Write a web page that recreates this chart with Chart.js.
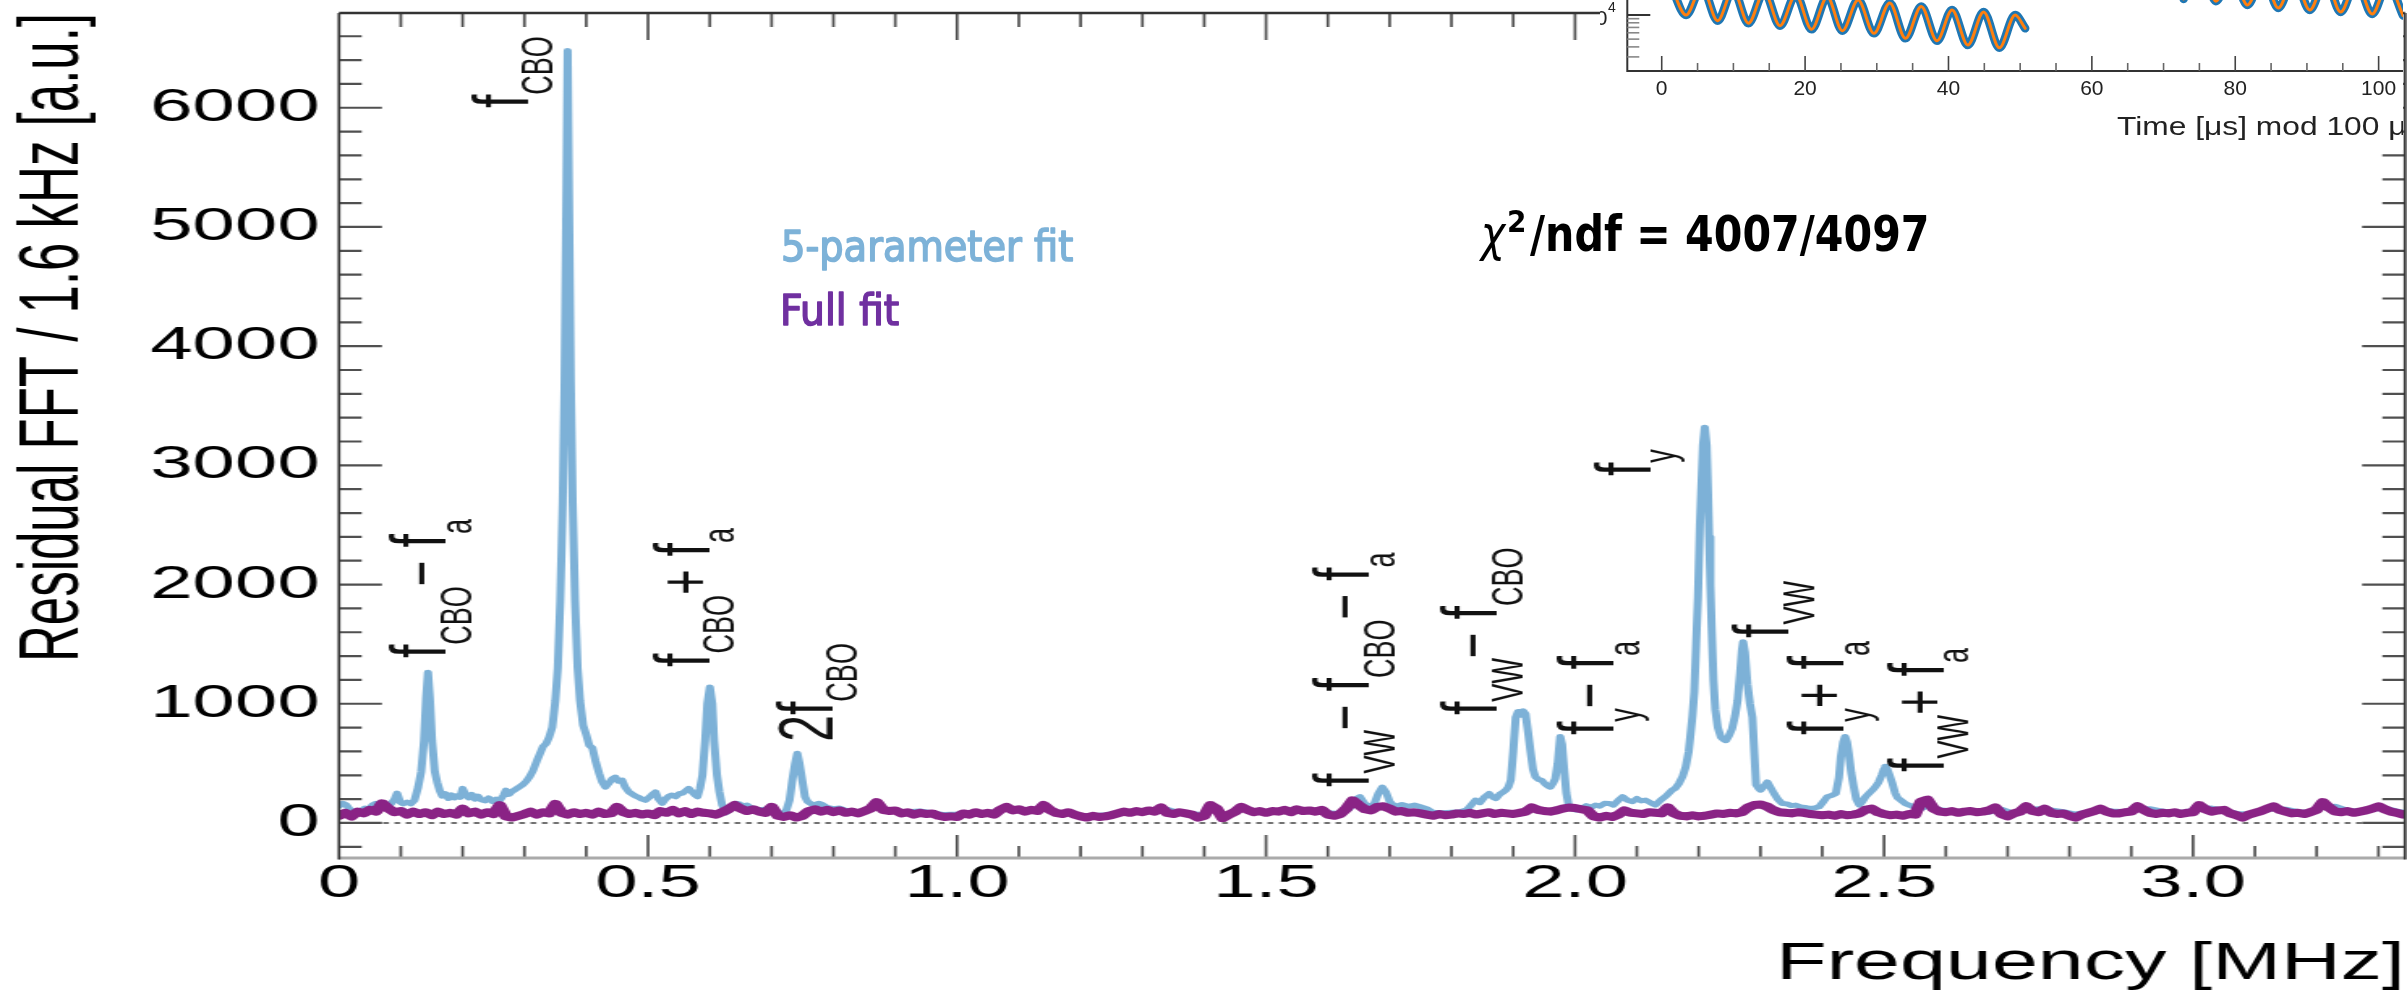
<!DOCTYPE html>
<html>
<head>
<meta charset="utf-8">
<title>Residual FFT</title>
<script src="https://cdn.jsdelivr.net/npm/chart.js@4.4.1/dist/chart.umd.min.js"></script>
<style>
  html, body { margin: 0; padding: 0; background: #fff; overflow: hidden; }
  #stage { position: relative; width: 2407px; height: 993px; overflow: hidden; background: #fff; }
  #spectrum { position: absolute; left: 0; top: 0; transform-origin: 0 0; }
  #inset { position: absolute; left: 1600px; top: 0; background: #fff; }
  #notes { position: absolute; left: 0; top: 0; pointer-events: none; }
</style>
</head>
<body>
<div id="stage">
  <canvas id="spectrum" width="1486" height="993"></canvas>
  <canvas id="inset" width="803" height="150"></canvas>
  <canvas id="notes" width="2407" height="993"></canvas>
</div>
<script>
// ---------------- data ----------------

// x ticks / y ticks of the spectrum
const freqTickLabels = ['0', '0.5', '1.0', '1.5', '2.0', '2.5', '3.0'];
const ampTickLabels = ['0', '1000', '2000', '3000', '4000', '5000', '6000'];

// full fit residual FFT, one value per 0.01 MHz starting at 0
const fullFitStep = 0.01;
const fullFitAmp = [
  60, 85, 55, 95, 80, 110, 95, 165, 120, 90,
  100, 70, 95, 75, 90, 65, 95, 75, 85, 70,
  120, 80, 95, 70, 90, 75, 150, 55, 45, 60,
  75, 95, 70, 90, 80, 160, 85, 70, 90, 75,
  85, 70, 95, 75, 80, 135, 90, 75, 85, 70,
  80, 65, 100, 85, 110, 80, 100, 75, 95, 85,
  80, 70, 90, 115, 150, 120, 100, 115, 95, 85,
  135, 60, 50, 65, 45, 60, 100, 115, 95, 110,
  90, 105, 85, 95, 80, 100, 120, 175, 110, 100,
  105, 80, 90, 70, 85, 75, 80, 60, 50, 55,
  50, 80, 70, 90, 75, 85, 70, 110, 135, 105,
  115, 95, 110, 100, 150, 110, 85, 75, 90, 70,
  55, 45, 60, 50, 55, 65, 80, 95, 85, 100,
  90, 105, 95, 130, 85, 75, 90, 80, 70, 45,
  60, 150, 120, 40, 70, 95, 135, 110, 90, 100,
  85, 100, 95, 110, 90, 115, 100, 105, 95, 110,
  70, 60, 75, 120, 190, 150, 115, 105, 135, 140,
  120, 95, 100, 85, 90, 80, 70, 60, 75, 65,
  70, 80, 75, 85, 70, 80, 90, 75, 85, 80,
  75, 85, 95, 130, 110, 100, 95, 105, 120, 130,
  125, 115, 105, 55, 45, 60, 50, 70, 105, 85,
  80, 75, 90, 85, 80, 130, 80, 60, 55, 65,
  55, 60, 70, 80, 75, 85, 80, 90, 130, 150,
  155, 140, 110, 90, 85, 80, 90, 85, 75, 70,
  65, 70, 60, 75, 65, 70, 80, 110, 120, 90,
  75, 65, 70, 60, 75, 70, 180, 195, 120, 95,
  90, 100, 85, 95, 100, 90, 95, 105, 130, 75,
  55, 80, 95, 140, 100, 90, 120, 85, 75, 80,
  60, 45, 70, 85, 100, 120, 95, 80, 80, 90,
  95, 140, 110, 85, 75, 85, 80, 90, 75, 85,
  90, 150, 115, 95, 105, 110, 80, 65, 45, 70,
  85, 100, 120, 140, 110, 95, 80, 85, 75, 90,
  110, 175, 130, 95, 90, 100, 85, 95, 105, 120,
  140, 115, 95, 85, 70, 65
];

// 5-parameter fit residual FFT (MHz, a.u.)
const fit5Freq = [
  0.000, 0.006, 0.012, 0.018, 0.024, 0.030, 0.036, 0.042, 0.048, 0.054,
  0.060, 0.066, 0.072, 0.078, 0.084, 0.090, 0.094, 0.099, 0.104, 0.110,
  0.116, 0.122, 0.128, 0.133, 0.1375, 0.141, 0.144, 0.147, 0.1505, 0.155,
  0.159, 0.163, 0.167, 0.172, 0.177, 0.182, 0.187, 0.192, 0.196, 0.200,
  0.205, 0.210, 0.215, 0.220, 0.225, 0.230, 0.236, 0.242, 0.248, 0.254,
  0.260, 0.266, 0.270, 0.275, 0.280, 0.285, 0.291, 0.297, 0.303, 0.308,
  0.314, 0.320, 0.325, 0.330, 0.335, 0.340, 0.345, 0.350, 0.354, 0.358,
  0.362, 0.365, 0.368, 0.370, 0.372, 0.375, 0.378, 0.382, 0.386, 0.390,
  0.395, 0.400, 0.405, 0.410, 0.415, 0.421, 0.426, 0.431, 0.436, 0.442,
  0.447, 0.452, 0.458, 0.463, 0.469, 0.475, 0.480, 0.485, 0.490, 0.496,
  0.502, 0.507, 0.512, 0.517, 0.523, 0.528, 0.534, 0.539, 0.545, 0.550,
  0.556, 0.561, 0.566, 0.571, 0.576, 0.580, 0.584, 0.588, 0.5925, 0.596,
  0.600, 0.604, 0.607, 0.6115, 0.6155, 0.620, 0.626, 0.632, 0.638, 0.643,
  0.648, 0.654, 0.660, 0.666, 0.672, 0.680, 0.690, 0.700, 0.710, 0.718,
  0.724, 0.729, 0.7335, 0.738, 0.7416, 0.745, 0.7495, 0.754, 0.758, 0.764,
  0.770, 0.776, 0.782, 0.790, 0.800, 0.810, 0.820, 0.830, 0.840, 0.860,
  0.870, 0.880, 0.900, 0.920, 0.940, 0.960, 0.980, 1.000, 1.020, 1.040,
  1.060, 1.080, 1.100, 1.120, 1.140, 1.160, 1.180, 1.200, 1.220, 1.240,
  1.260, 1.280, 1.300, 1.320, 1.340, 1.360, 1.380, 1.400, 1.415, 1.430,
  1.450, 1.465, 1.480, 1.500, 1.520, 1.540, 1.560, 1.580, 1.600, 1.620,
  1.635, 1.645, 1.652, 1.660, 1.668, 1.675, 1.682, 1.688, 1.694, 1.700,
  1.706, 1.712, 1.720, 1.730, 1.740, 1.750, 1.760, 1.770, 1.785, 1.800,
  1.815, 1.825, 1.832, 1.839, 1.846, 1.853, 1.861, 1.867, 1.872, 1.878,
  1.884, 1.888, 1.892, 1.896, 1.900, 1.904, 1.908, 1.912, 1.916, 1.920,
  1.924, 1.928, 1.932, 1.936, 1.941, 1.946, 1.951, 1.956, 1.960, 1.964,
  1.968, 1.972, 1.976, 1.979, 1.982, 1.986, 1.990, 1.996, 2.002, 2.010,
  2.018, 2.026, 2.033, 2.040, 2.048, 2.055, 2.062, 2.070, 2.077, 2.085,
  2.093, 2.100, 2.107, 2.114, 2.122, 2.130, 2.138, 2.147, 2.152, 2.157,
  2.162, 2.168, 2.174, 2.179, 2.184, 2.187, 2.190, 2.193, 2.196, 2.199,
  2.202, 2.205, 2.207, 2.210, 2.213, 2.215, 2.217, 2.219, 2.221, 2.224,
  2.227, 2.231, 2.236, 2.240, 2.244, 2.249, 2.254, 2.259, 2.263, 2.267,
  2.270, 2.272, 2.275, 2.279, 2.283, 2.287, 2.290, 2.293, 2.297, 2.300,
  2.306, 2.311, 2.316, 2.322, 2.328, 2.335, 2.343, 2.350, 2.357, 2.365,
  2.372, 2.379, 2.387, 2.395, 2.402, 2.408, 2.415, 2.422, 2.427, 2.430,
  2.434, 2.437, 2.440, 2.443, 2.447, 2.451, 2.455, 2.460, 2.465, 2.470,
  2.476, 2.481, 2.486, 2.491, 2.496, 2.500, 2.502, 2.505, 2.509, 2.513,
  2.518, 2.522, 2.527, 2.535, 2.548, 2.560, 2.575, 2.590, 2.610, 2.630,
  2.650, 2.670, 2.690, 2.710, 2.730, 2.750, 2.770, 2.790, 2.810, 2.830,
  2.850, 2.870, 2.890, 2.910, 2.930, 2.950, 2.970, 2.990, 3.010, 3.030,
  3.050, 3.070, 3.090, 3.110, 3.130, 3.150, 3.170, 3.190, 3.210, 3.230,
  3.250, 3.270, 3.290, 3.310, 3.330, 3.345
];
const fit5Amp = [
  140, 165, 150, 110, 95, 80, 105, 125, 110, 150,
  165, 150, 170, 145, 160, 200, 250, 175, 160, 175,
  160, 190, 300, 430, 690, 1050, 1265, 1050, 690, 430,
  340, 270, 225, 245, 205, 235, 210, 230, 215, 290,
  235, 210, 240, 200, 225, 195, 185, 210, 180, 200,
  190, 230, 275, 240, 265, 280, 300, 320, 350, 385,
  440, 520, 580, 640, 665, 720, 800, 1025, 1300, 1860,
  2700, 3700, 5300, 6480, 5300, 3700, 2700, 1860, 1300, 1025,
  820, 740, 650, 630, 520, 415, 340, 300, 330, 370,
  385, 350, 360, 300, 260, 240, 225, 215, 200, 190,
  215, 240, 260, 200, 165, 200, 225, 235, 220, 245,
  250, 270, 290, 260, 235, 220, 290, 400, 690, 1000,
  1140, 1000, 690, 400, 260, 150, 85, 110, 140, 165,
  160, 140, 150, 130, 120, 110, 115, 100, 80, 75,
  110, 190, 360, 500, 585, 500, 360, 220, 180, 160,
  150, 165, 155, 130, 120, 125, 105, 100, 95, 115,
  150, 120, 100, 95, 100, 85, 70, 75, 85, 80,
  95, 130, 110, 105, 125, 90, 80, 65, 60, 70,
  85, 95, 90, 100, 115, 85, 80, 65, 130, 60,
  90, 125, 100, 90, 100, 105, 95, 105, 85, 80,
  120, 200, 220, 160, 140, 160, 250, 300, 260, 180,
  150, 140, 155, 140, 150, 135, 120, 90, 85, 90,
  95, 110, 150, 192, 170, 215, 247, 215, 205, 240,
  260, 275, 300, 358, 600, 886, 935, 905, 940, 915,
  760, 600, 450, 386, 365, 358, 330, 310, 300, 330,
  370, 500, 725, 660, 470, 250, 140, 115, 108, 120,
  145, 130, 150, 140, 165, 164, 150, 190, 220, 190,
  178, 205, 185, 192, 170, 150, 190, 225, 250, 275,
  290, 330, 390, 470, 600, 747, 900, 1100, 1500, 1900,
  2500, 2900, 3170, 3320, 3170, 2800, 2400, 2000, 1650, 1200,
  950, 800, 720, 700, 690, 730, 790, 900, 1025, 1250,
  1450, 1520, 1430, 1164, 1000, 886, 600, 320, 290, 275,
  310, 344, 300, 247, 200, 164, 160, 145, 150, 135,
  130, 122, 125, 136, 180, 220, 230, 247, 380, 553,
  680, 725, 680, 580, 420, 303, 200, 150, 180, 220,
  250, 275, 303, 340, 400, 455, 475, 455, 400, 340,
  250, 210, 192, 160, 136, 120, 150, 110, 100, 95,
  100, 90, 115, 80, 110, 120, 110, 95, 75, 90,
  110, 100, 95, 115, 120, 100, 85, 95, 120, 125,
  105, 80, 75, 100, 120, 115, 95, 90, 130, 140,
  105, 100, 115, 125, 100, 85
];

// inset: counts vs time mod 100 us (data and fit coincide)
const insetTime = [
  1.2, 3.4, 5.6, 7.8, 9.95, 12.1, 14.3, 16.5, 18.7, 20.9,
  23.1, 25.2, 27.4, 29.6, 31.8, 34.0, 36.2, 38.4, 40.5, 42.7,
  44.9, 47.1, 49.3, 50.7, 61.0, 72.8, 75.4, 77.3, 79.5, 81.7,
  83.9, 86.0, 88.2, 90.4, 92.6, 94.7, 96.9, 99.1, 101.3, 103.4
];
const insetCounts = [
  24400, 10000, 22400, 8490, 20500, 7900, 19400, 7350, 17800, 6630,
  16800, 6360, 15400, 5900, 14130, 5110, 12760, 4770, 11550, 4220,
  10900, 3900, 10000, 6820, null, 15900, 37000, 14900, 34500, 13350,
  31000, 12230, 29000, 11550, 27500, 10900, 26000, 10300, 24500, 9860
];
const insetTickLabels = ['0', '20', '40', '60', '80', '100'];

// ---------------- layout ----------------
const SANS = '"Liberation Sans", Arial, Helvetica, sans-serif';
const CANVAS_W = 1486;
const STRETCH = 2407 / CANVAS_W;     // figure is drawn narrow, then widened
const PLOT = { left: 339, right: 2405, top: 13, bottom: 858 };   // page px
const X_MAX = 3.343;
const Y_MIN = -294;
const Y_MAX = 6795;

document.getElementById('spectrum').style.transform = 'scaleX(' + STRETCH + ')';

// keep the plot frame where it is: no extra room for edge tick labels
function noEdgePadding(s) {
  s.paddingTop = 0;
  s.paddingBottom = 0;
  s.paddingLeft = 0;
  s.paddingRight = 0;
}

// fixed tick values taken from the label lists
function ticksFrom(labels) {
  return s => { s.ticks = labels.map(l => ({ value: Number(l) })); };
}

// root-style frame with inward ticks on all four sides
const frameTicks = {
  id: 'frameTicks',
  afterDraw(chart) {
    const { ctx, chartArea: a, scales: { x, y } } = chart;
    ctx.save();
    ctx.lineCap = 'butt';
    // ticks along x (every 0.1 MHz, long every 0.5)
    ctx.strokeStyle = '#505050';
    ctx.lineWidth = 1.7;
    for (let i = 1; i / 10 <= X_MAX; i++) {
      const px = x.getPixelForValue(i / 10);
      const major = i % 5 === 0;
      ctx.beginPath();
      ctx.moveTo(px, a.bottom);
      ctx.lineTo(px, a.bottom - (major ? 23 : 12));
      ctx.moveTo(px, a.top);
      ctx.lineTo(px, a.top + (major ? 27 : 14));
      ctx.stroke();
    }
    // ticks along y (every 200, long every 1000)
    ctx.lineWidth = 2.2;
    for (let v = -200; v <= Y_MAX; v += 200) {
      const py = y.getPixelForValue(v);
      const len = v % 1000 === 0 ? 26.5 : 14;
      ctx.beginPath();
      ctx.moveTo(a.left, py);
      ctx.lineTo(a.left + len, py);
      ctx.moveTo(a.right, py);
      ctx.lineTo(a.right - len, py);
      ctx.stroke();
    }
    // frame
    ctx.strokeStyle = '#aaaaaa';
    ctx.lineWidth = 3;
    ctx.beginPath();
    ctx.moveTo(a.left, a.bottom);
    ctx.lineTo(a.right, a.bottom);
    ctx.stroke();
    ctx.strokeStyle = '#333';
    ctx.lineWidth = 2.6;
    ctx.beginPath();
    ctx.moveTo(a.left, a.top);
    ctx.lineTo(a.right, a.top);
    ctx.stroke();
    ctx.lineWidth = 1.7;
    ctx.beginPath();
    ctx.moveTo(a.left, a.top);
    ctx.lineTo(a.left, a.bottom + 1.5);
    ctx.moveTo(a.right, a.top);
    ctx.lineTo(a.right, a.bottom + 1.5);
    ctx.stroke();
    ctx.restore();
  }
};

// rotated peak tags, TLatex-like: main text, subscripts and +/- signs
const TAG_FONT = '48px ' + SANS;
const SUB_FONT = '27px ' + SANS;
const OP_FONT = '44px ' + SANS;
const SUB_DROP = 15.4;
const OP_GAP = 13;

const peakTags = [
  { at: [0.1731, 1384], parts: [['f'], ['CBO', 'sub'], ['\u2212', 'op'], ['f'], ['a', 'sub']] },
  { at: [0.3058, 5998], parts: [['f'], ['CBO', 'sub']] },
  { at: [0.5987, 1309], parts: [['f'], ['CBO', 'sub'], ['+', 'op'], ['f'], ['a', 'sub']] },
  { at: [0.7977, 682], parts: [['2'], ['f'], ['CBO', 'sub']] },
  { at: [1.6667, 302], parts: [['f'], ['VW', 'sub'], ['\u2212', 'op'], ['f'], ['CBO', 'sub'], ['\u2212', 'op'], ['f'], ['a', 'sub']] },
  { at: [1.8738, 906], parts: [['f'], ['VW', 'sub'], ['\u2212', 'op'], ['f'], ['CBO', 'sub']] },
  { at: [2.0631, 738], parts: [['f'], ['y', 'sub'], ['\u2212', 'op'], ['f'], ['a', 'sub']] },
  { at: [2.1225, 2911], parts: [['f'], ['y', 'sub']] },
  { at: [2.3463, 1552], parts: [['f'], ['VW', 'sub']] },
  { at: [2.4353, 738], parts: [['f'], ['y', 'sub'], ['+', 'op'], ['f'], ['a', 'sub']] },
  { at: [2.5955, 428], parts: [['f'], ['VW', 'sub'], ['+', 'op'], ['f'], ['a', 'sub']] }
];

function drawTag(ctx, x, y, parts) {
  ctx.save();
  ctx.translate(x, y);
  ctx.rotate(-Math.PI / 2);
  ctx.fillStyle = '#111';
  ctx.textAlign = 'left';
  ctx.textBaseline = 'alphabetic';
  let pos = 0;
  parts.forEach(([t, kind]) => {
    ctx.font = kind === 'sub' ? SUB_FONT : kind === 'op' ? OP_FONT : TAG_FONT;
    ctx.fillText(t, pos, kind === 'sub' ? SUB_DROP : 0);
    pos += ctx.measureText(t).width + (kind === 'op' ? OP_GAP : 0);
  });
  ctx.restore();
}

const peakLabels = {
  id: 'peakLabels',
  afterDatasetsDraw(chart) {
    const { ctx, scales: { x, y } } = chart;
    peakTags.forEach(tag => {
      drawTag(ctx, x.getPixelForValue(tag.at[0]), y.getPixelForValue(tag.at[1]), tag.parts);
    });
  }
};

const fullFitPoints = fullFitAmp.map((v, i) => ({ x: +(i * fullFitStep).toFixed(3), y: v }));
const fit5Points = fit5Freq.map((f, i) => ({ x: f, y: fit5Amp[i] }));

new Chart(document.getElementById('spectrum'), {
  type: 'line',
  data: {
    datasets: [
      {
        label: 'zero',
        data: [{ x: 0, y: 0 }, { x: X_MAX, y: 0 }],
        borderColor: '#707070',
        borderWidth: 2,
        borderDash: [2, 5],
        order: 0
      },
      {
        label: 'Full fit',
        data: fullFitPoints,
        borderColor: '#8a2385',
        borderWidth: 8,
        order: 1
      },
      {
        label: '5-parameter fit',
        data: fit5Points,
        borderColor: '#7db1d7',
        borderWidth: 5,
        order: 2
      }
    ]
  },
  options: {
    responsive: false,
    animation: false,
    devicePixelRatio: 1,
    elements: {
      point: { radius: 0 },
      line: { tension: 0, borderJoinStyle: 'round', borderCapStyle: 'round' }
    },
    layout: { padding: { top: PLOT.top, right: CANVAS_W - PLOT.right / STRETCH, left: 0, bottom: 0 } },
    plugins: { legend: { display: false }, tooltip: { enabled: false } },
    scales: {
      x: {
        type: 'linear',
        min: 0,
        max: X_MAX,
        grid: { display: false, drawTicks: false },
        border: { display: false },
        ticks: {
          autoSkip: false,
          maxRotation: 0,
          padding: 3,
          color: '#000',
          font: { family: SANS, size: 47, lineHeight: 1 },
          callback: (v, i) => freqTickLabels[i]
        },
        title: {
          display: true,
          text: 'Frequency [MHz]',
          align: 'end',
          color: '#000',
          font: { family: SANS, size: 51, lineHeight: 1 },
          padding: { top: 0, bottom: 3 }
        },
        afterBuildTicks: ticksFrom(freqTickLabels),
        afterFit: s => { s.height = 993 - PLOT.bottom; noEdgePadding(s); }
      },
      y: {
        type: 'linear',
        min: Y_MIN,
        max: Y_MAX,
        grid: { display: false, drawTicks: false },
        border: { display: false },
        ticks: {
          padding: 12,
          color: '#000',
          font: { family: SANS, size: 47, lineHeight: 1 },
          callback: (v, i) => ampTickLabels[i]
        },
        title: {
          display: true,
          text: 'Residual FFT / 1.6 kHz [a.u.]',
          align: 'end',
          color: '#000',
          font: { family: SANS, size: 51, lineHeight: 1 },
          padding: { top: 8.5, bottom: 0 }
        },
        afterBuildTicks: ticksFrom(ampTickLabels),
        afterFit: s => { s.width = PLOT.left / STRETCH; noEdgePadding(s); }
      }
    }
  },
  plugins: [frameTicks, peakLabels]
});

// ---------------- inset ----------------
const insetAxes = {
  id: 'insetAxes',
  afterDraw(chart) {
    const { ctx, chartArea: a, scales: { x, y } } = chart;
    ctx.save();
    ctx.strokeStyle = '#333';
    ctx.lineWidth = 2;
    ctx.beginPath();
    ctx.moveTo(a.left, 0);
    ctx.lineTo(a.left, a.bottom);
    ctx.lineTo(a.right, a.bottom);
    ctx.stroke();
    // x ticks every 5 us, long every 20
    ctx.lineWidth = 1.6;
    for (let t = 0; t <= x.max; t += 5) {
      const px = x.getPixelForValue(t);
      ctx.strokeStyle = t % 20 === 0 ? '#444' : '#666';
      ctx.beginPath();
      ctx.moveTo(px, a.bottom);
      ctx.lineTo(px, a.bottom - (t % 20 === 0 ? 15 : 8));
      ctx.stroke();
    }
    // log y ticks
    [3000, 4000, 5000, 6000, 7000, 8000, 9000, 10000].forEach(v => {
      const py = y.getPixelForValue(v);
      ctx.strokeStyle = v === 10000 ? '#333' : '#888';
      ctx.lineWidth = v === 10000 ? 2 : 1.6;
      ctx.beginPath();
      ctx.moveTo(a.left, py);
      ctx.lineTo(a.left + (v === 10000 ? 23 : 12), py);
      ctx.stroke();
    });
    // 10^4 label
    ctx.fillStyle = '#222';
    ctx.textBaseline = 'alphabetic';
    ctx.textAlign = 'right';
    ctx.font = '21px ' + SANS;
    ctx.fillText('10', 7.5, y.getPixelForValue(10000) + 10);
    ctx.textAlign = 'left';
    ctx.font = '14px ' + SANS;
    ctx.fillText('4', 8, y.getPixelForValue(10000) - 3);
    // axis title, right part runs off the pad
    ctx.font = '25px ' + SANS;
    ctx.translate(517, 135);
    ctx.scale(1.27, 1);
    ctx.fillText('Time [\u03bcs] mod 100 \u03bcs', 0, 0);
    ctx.restore();
  }
};

const insetPoints = insetTime.map((t, i) => ({ x: t, y: insetCounts[i] }));

new Chart(document.getElementById('inset'), {
  type: 'line',
  data: {
    datasets: [
      { label: 'fit', data: insetPoints, borderColor: '#ff7f0e', borderWidth: 3, order: 0 },
      { label: 'data', data: insetPoints, borderColor: '#1f77b4', borderWidth: 8.5, order: 1 }
    ]
  },
  options: {
    responsive: false,
    animation: false,
    devicePixelRatio: 1,
    spanGaps: false,
    elements: {
      point: { radius: 0 },
      line: { cubicInterpolationMode: 'monotone', borderCapStyle: 'round', borderJoinStyle: 'round' }
    },
    layout: { padding: 0 },
    plugins: { legend: { display: false }, tooltip: { enabled: false } },
    scales: {
      x: {
        type: 'linear',
        min: -4.8,
        max: 103.4,
        grid: { display: false, drawTicks: false },
        border: { display: false },
        ticks: {
          autoSkip: false,
          maxRotation: 0,
          padding: 8,
          color: '#222',
          font: { family: SANS, size: 21, lineHeight: 1 },
          callback: (v, i) => insetTickLabels[i]
        },
        afterBuildTicks: ticksFrom(insetTickLabels),
        afterFit: s => { s.height = 79; noEdgePadding(s); }
      },
      y: {
        type: 'logarithmic',
        min: 2000,
        max: 15400,
        grid: { display: false, drawTicks: false },
        border: { display: false },
        ticks: { display: false },
        afterFit: s => { s.width = 27.3; noEdgePadding(s); }
      }
    }
  },
  plugins: [insetAxes]
});

// ---------------- annotations ----------------
const notes = document.getElementById('notes').getContext('2d');
const COND = '"DejaVu Sans Condensed", "DejaVu Sans", sans-serif';

function fitInk(ctx, text, font, color, left, baseline, right, stroke) {
  ctx.font = font;
  const m = ctx.measureText(text);
  const ink = m.actualBoundingBoxLeft + m.actualBoundingBoxRight;
  const k = (right - left) / ink;
  ctx.save();
  ctx.translate(left + m.actualBoundingBoxLeft * k, baseline);
  ctx.scale(k, 1);
  ctx.fillStyle = color;
  ctx.textAlign = 'left';
  ctx.textBaseline = 'alphabetic';
  ctx.fillText(text, 0, 0);
  if (stroke) {
    ctx.strokeStyle = color;
    ctx.lineWidth = stroke;
    ctx.lineJoin = 'round';
    ctx.strokeText(text, 0, 0);
  }
  ctx.restore();
}

fitInk(notes, '5-parameter fit', '43px ' + COND, '#7db2d8', 783, 261, 1073, 1.5);
fitInk(notes, 'Full fit', '43px ' + COND, '#7030a0', 783, 325, 899, 1.5);
fitInk(notes, '\u03c7', 'italic 49px ' + COND, '#000', 1479, 251, 1507);
fitInk(notes, '2', 'bold 31px ' + COND, '#000', 1509, 232, 1524);
fitInk(notes, '/ndf = 4007/4097', 'bold 49px ' + COND, '#000', 1530, 251, 1927);
</script>
</body>
</html>
